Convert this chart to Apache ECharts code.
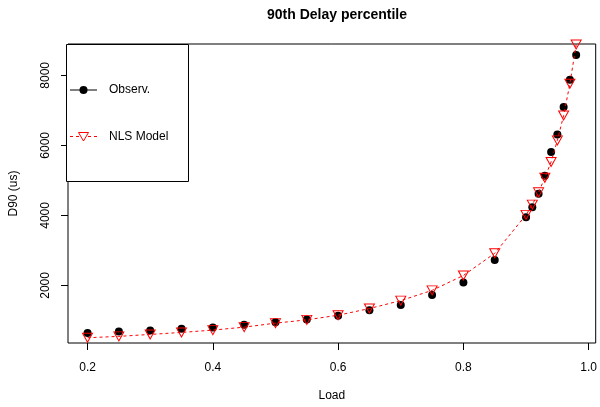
<!DOCTYPE html>
<html><head><meta charset="utf-8">
<script src="https://cdn.jsdelivr.net/npm/echarts@6/dist/echarts.min.js"></script>
<style>html,body{margin:0;padding:0;background:#fff}#c{width:600px;height:407px}</style>
</head><body><div id="c"></div>
<script>
const load = [0.2,0.25,0.3,0.35,0.4,0.45,0.5,0.55,0.6,0.65,0.7,0.75,0.8,0.85,0.9,0.91,0.92,0.93,0.94,0.95,0.96,0.97,0.98];
const observed = [638,686,714,761,800,875,950,1027,1130,1291,1441,1725,2085,2729,3949,4232,4619,5130,5810,6312,7098,7873,8582];
const model = [505,544,600,657,723,808,922,1016,1149,1339,1566,1858,2284,2917,4014,4307,4658,5073,5527,6142,6851,7759,8880];
const xTicks = [0.2,0.4,0.6,0.8,1.0];
const yTicks = [2000,4000,6000,8000];
const titleText = '90th Delay percentile';
const xName = 'Load', yName = 'D90 (us)';
const legendNames = ['Observ.', 'NLS Model'];

const font = 'Liberation Sans, Arial, Helvetica, sans-serif';
const chart = echarts.init(document.getElementById('c'), null, {renderer:'canvas'});
chart.setOption({
  animation:false,
  title:{text:titleText, left:332, top:3, textAlign:'center',
    textStyle:{fontFamily:font,fontWeight:'bold',fontSize:14,color:'#000'}},
  grid:{left:66,right:2,top:44,bottom:62,show:true,borderColor:'#000',borderWidth:1,backgroundColor:'transparent'},
  xAxis:{type:'value',min:0.1688,max:1.0112,
    name:xName,nameLocation:'middle',nameGap:47,
    nameTextStyle:{fontFamily:font,fontSize:12,color:'#000'},
    splitLine:{show:false},axisLine:{show:false},
    axisTick:{show:true,inside:false,length:7,lineStyle:{color:'#000'},customValues:xTicks},
    axisLabel:{fontFamily:font,fontSize:12,color:'#000',margin:19,customValues:xTicks,
      formatter:v=>v.toFixed(1)}},
  yAxis:{type:'value',min:355,max:8895,
    name:yName,nameLocation:'middle',nameGap:48,nameRotate:90,
    nameTextStyle:{fontFamily:font,fontSize:12,color:'#000'},
    splitLine:{show:false},axisLine:{show:false},
    axisTick:{show:true,inside:false,length:7,lineStyle:{color:'#000'},customValues:yTicks},
    axisLabel:{fontFamily:font,fontSize:12,color:'#000',margin:16,rotate:90,customValues:yTicks,
      formatter:v=>String(v)}},
  series:[
    {type:'scatter',name:legendNames[0],data:load.map((x,i)=>[x,observed[i]]),
      symbol:'circle',symbolSize:8,itemStyle:{color:'#000',opacity:1},z:2},
    {type:'line',name:legendNames[1],data:load.map((x,i)=>[x,model[i]]),
      symbol:'triangle',symbolRotate:180,symbolSize:[10,9],showAllSymbol:true,
      itemStyle:{color:'rgba(0,0,0,0)',borderColor:'#ff0000',borderWidth:1},
      lineStyle:{color:'#ff0000',width:1,type:[3,3]},clip:true,z:3}
  ],
  graphic:[
    {type:'rect',shape:{x:66.5,y:44.5,width:122,height:137},style:{fill:'#fff',stroke:'#000',lineWidth:1},z:10},
    {type:'line',shape:{x1:70,y1:90,x2:97,y2:90},style:{stroke:'#000',lineWidth:1},z:11},
    {type:'circle',shape:{cx:83.5,cy:90,r:4},style:{fill:'#000'},z:11},
    {type:'text',x:109,y:90,style:{text:legendNames[0],font:'12px '+font,fill:'#000',textVerticalAlign:'middle'},z:11},
    {type:'line',shape:{x1:70,y1:136.5,x2:97,y2:136.5},style:{stroke:'#ff0000',lineWidth:1,lineDash:[3,3]},z:11},
    {type:'polygon',shape:{points:[[78.5,132.5],[88.5,132.5],[83.5,141]]},style:{fill:'#fff',stroke:'#ff0000',lineWidth:1},z:12},
    {type:'text',x:109,y:136.5,style:{text:legendNames[1],font:'12px '+font,fill:'#000',textVerticalAlign:'middle'},z:11}
  ]
});
</script></body></html>
